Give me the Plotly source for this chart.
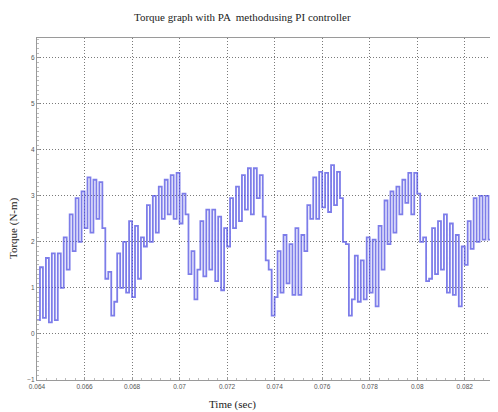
import plotly.graph_objects as go

title_text = "Torque graph with PA  methodusing PI controller"
x_label = "Time (sec)"
y_label = "Torque (N-m)"

x_ticks = [0.064, 0.066, 0.068, 0.07, 0.072, 0.074, 0.076, 0.078, 0.08, 0.082]
y_ticks = [-1, 0, 1, 2, 3, 4, 5, 6]

time_s = [
    0.064000, 0.064125, 0.064250, 0.064375, 0.064500, 0.064625, 0.064750, 0.064875,
    0.065000, 0.065125, 0.065250, 0.065375, 0.065500, 0.065625, 0.065750, 0.065875,
    0.066000, 0.066125, 0.066250, 0.066375, 0.066500, 0.066625, 0.066750, 0.066875,
    0.067000, 0.067125, 0.067250, 0.067375, 0.067500, 0.067625, 0.067750, 0.067875,
    0.068000, 0.068125, 0.068250, 0.068375, 0.068500, 0.068625, 0.068750, 0.068875,
    0.069000, 0.069125, 0.069250, 0.069375, 0.069500, 0.069625, 0.069750, 0.069875,
    0.070000, 0.070125, 0.070250, 0.070375, 0.070500, 0.070625, 0.070750, 0.070875,
    0.071000, 0.071125, 0.071250, 0.071375, 0.071500, 0.071625, 0.071750, 0.071875,
    0.072000, 0.072125, 0.072250, 0.072375, 0.072500, 0.072625, 0.072750, 0.072875,
    0.073000, 0.073125, 0.073250, 0.073375, 0.073500, 0.073625, 0.073750, 0.073875,
    0.074000, 0.074125, 0.074250, 0.074375, 0.074500, 0.074625, 0.074750, 0.074875,
    0.075000, 0.075125, 0.075250, 0.075375, 0.075500, 0.075625, 0.075750, 0.075875,
    0.076000, 0.076125, 0.076250, 0.076375, 0.076500, 0.076625, 0.076750, 0.076875,
    0.077000, 0.077125, 0.077250, 0.077375, 0.077500, 0.077625, 0.077750, 0.077875,
    0.078000, 0.078125, 0.078250, 0.078375, 0.078500, 0.078625, 0.078750, 0.078875,
    0.079000, 0.079125, 0.079250, 0.079375, 0.079500, 0.079625, 0.079750, 0.079875,
    0.080000, 0.080125, 0.080250, 0.080375, 0.080500, 0.080625, 0.080750, 0.080875,
    0.081000, 0.081125, 0.081250, 0.081375, 0.081500, 0.081625, 0.081750, 0.081875,
    0.082000, 0.082125, 0.082250, 0.082375, 0.082500, 0.082625, 0.082750, 0.082875,
    0.083000, 0.083125, 0.083250, 0.083375, 0.083500, 0.083625,
]

torque_nm = [
    0.30, 1.45, 0.35, 1.65, 0.25, 1.75, 0.30, 1.75,
    1.00, 2.10, 1.40, 2.60, 1.80, 2.95, 2.00, 3.10,
    2.30, 3.40, 2.20, 3.35, 2.50, 3.30, 2.30, 1.20,
    1.35, 0.40, 0.70, 1.75, 1.00, 2.00, 0.90, 2.45,
    0.80, 2.35, 1.20, 2.10, 1.90, 2.80, 2.00, 3.00,
    2.20, 3.20, 2.50, 3.35, 2.60, 3.45, 2.50, 3.50,
    2.40, 3.05, 2.60, 1.30, 1.80, 0.75, 1.40, 2.45,
    1.25, 2.70, 1.40, 2.70, 1.15, 2.55, 0.95, 2.30,
    1.90, 2.95, 2.30, 3.20, 2.45, 3.45, 2.70, 3.60,
    2.60, 3.60, 2.95, 3.45, 2.55, 1.60, 1.40, 0.40,
    0.80, 1.80, 0.90, 2.15, 1.10, 1.95, 0.85, 2.30,
    0.85, 2.15, 1.80, 2.80, 2.50, 3.40, 2.50, 3.52,
    2.75, 3.50, 2.65, 3.67, 2.80, 3.52, 2.95, 2.00,
    1.95, 0.40, 0.75, 1.70, 0.70, 1.60, 0.75, 2.10,
    0.90, 2.05, 0.60, 2.35, 1.40, 2.90, 1.95, 3.10,
    2.20, 3.20, 2.60, 3.35, 2.85, 3.50, 2.60, 3.50,
    3.05, 2.00, 2.10, 1.15, 1.20, 2.30, 1.30, 2.45,
    1.40, 2.60, 0.90, 2.40, 0.85, 2.15, 0.60, 1.90,
    1.50, 2.45, 1.85, 2.95, 2.00, 3.00, 2.05, 3.00,
    2.05, 2.95, 2.20, 2.80, 2.10, 1.10,
]

# The page body has an 8px default margin, so the figure is sized to fit
# inside the 498x412 window after that offset.
FIG_W, FIG_H = 490, 404
M_L, M_R, M_T, M_B = 29, 0, 30, 32

fig = go.Figure()
fig.add_trace(go.Scatter(
    x=time_s, y=torque_nm, mode="lines",
    line=dict(color="rgba(75,75,225,0.72)", width=1.8, shape="hv"),
    showlegend=False, hoverinfo="skip",
))

tick_font = dict(family="Liberation Sans, Arial, sans-serif", size=6.5, color="#555555")
axis_common = dict(
    showline=True, linecolor="#9a9a9a", linewidth=1,
    showgrid=True, gridcolor="#7a7a7a", griddash="1px,2px", gridwidth=1,
    zeroline=False, ticks="inside", ticklen=3, tickcolor="#9a9a9a",
    tickfont=tick_font,
)

fig.update_xaxes(
    range=[0.064, 0.0834], tickvals=x_ticks, mirror=True,
    minor=dict(ticks="inside", ticklen=2, tickcolor="#bbbbbb", showgrid=False, dtick=0.0004),
    **axis_common,
)
fig.update_yaxes(
    range=[-1, 6.43], tickvals=y_ticks, mirror=False,
    minor=dict(ticks="inside", ticklen=2, tickcolor="#bbbbbb", showgrid=False, dtick=0.1),
    **axis_common,
)

plot_w = FIG_W - M_L - M_R
plot_h = FIG_H - M_T - M_B


def px_to_paper(px, py):
    return (px - M_L) / plot_w, (FIG_H - M_B - py) / plot_h


tx, ty = px_to_paper(234, 9)
ax_x, ax_y = px_to_paper(224, 396)
ay_x, ay_y = px_to_paper(5, 220)
label_font = dict(family="Liberation Serif, Times New Roman, serif", size=11, color="#222222")

fig.update_layout(
    width=FIG_W, height=FIG_H,
    margin=dict(l=M_L, r=M_R, t=M_T, b=M_B),
    paper_bgcolor="white", plot_bgcolor="white",
    annotations=[
        dict(text=title_text, x=tx, y=ty, xref="paper", yref="paper", showarrow=False,
             xanchor="center", yanchor="middle", font=label_font),
        dict(text=x_label, x=ax_x, y=ax_y, xref="paper", yref="paper", showarrow=False,
             xanchor="center", yanchor="middle", font=label_font),
        dict(text=y_label, x=ay_x, y=ay_y, xref="paper", yref="paper", showarrow=False,
             xanchor="center", yanchor="middle", textangle=-90, font=label_font),
    ],
)

fig.write_html("out.html")
